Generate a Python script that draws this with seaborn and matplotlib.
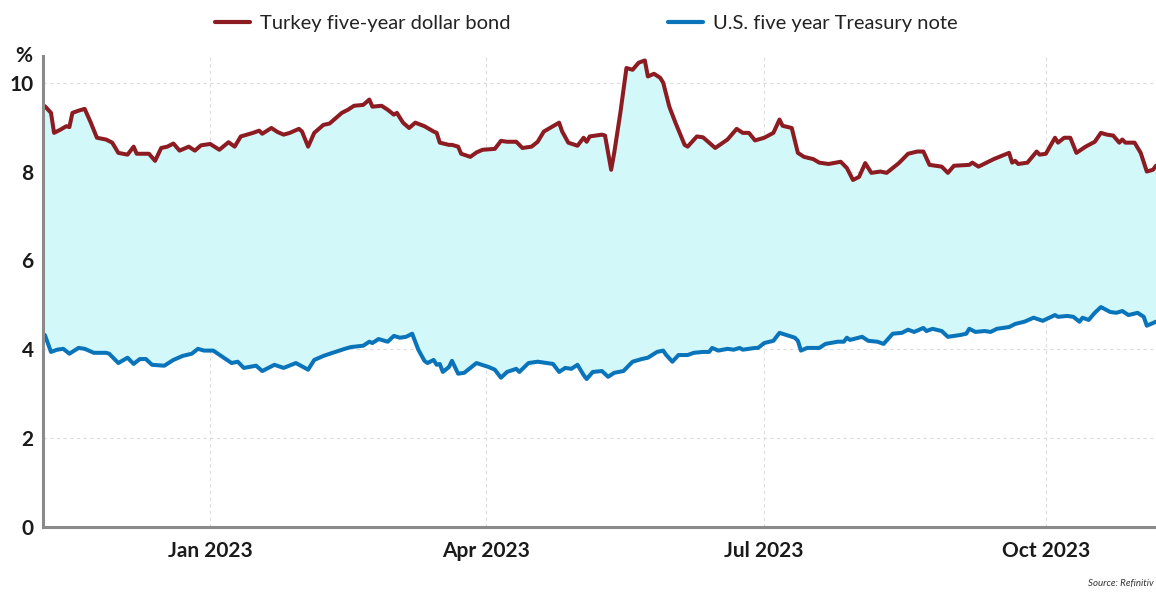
import numpy as np
import pandas as pd
import matplotlib
matplotlib.use("Agg")
import matplotlib.pyplot as plt
import matplotlib.dates as mdates
import seaborn as sns

# ---------------- data ----------------
turkey_dates = [
    "2022-11-08", "2022-11-10", "2022-11-11", "2022-11-13", "2022-11-15", "2022-11-16",
    "2022-11-17", "2022-11-19", "2022-11-21", "2022-11-23", "2022-11-25", "2022-11-28",
    "2022-11-30", "2022-12-02", "2022-12-05", "2022-12-07", "2022-12-08", "2022-12-12",
    "2022-12-14", "2022-12-16", "2022-12-18", "2022-12-20", "2022-12-22", "2022-12-25",
    "2022-12-27", "2022-12-29", "2023-01-01", "2023-01-04", "2023-01-07", "2023-01-09",
    "2023-01-11", "2023-01-15", "2023-01-17", "2023-01-18", "2023-01-21", "2023-01-23",
    "2023-01-25", "2023-01-27", "2023-01-30", "2023-01-31", "2023-02-02", "2023-02-04",
    "2023-02-07", "2023-02-09", "2023-02-13", "2023-02-15", "2023-02-17", "2023-02-20",
    "2023-02-22", "2023-02-23", "2023-02-26", "2023-02-28", "2023-03-02", "2023-03-03",
    "2023-03-05", "2023-03-07", "2023-03-09", "2023-03-12", "2023-03-15", "2023-03-16",
    "2023-03-17", "2023-03-20", "2023-03-21", "2023-03-23", "2023-03-24", "2023-03-27",
    "2023-03-29", "2023-03-31", "2023-04-04", "2023-04-06", "2023-04-08", "2023-04-11",
    "2023-04-13", "2023-04-16", "2023-04-18", "2023-04-20", "2023-04-22", "2023-04-25",
    "2023-04-26", "2023-04-28", "2023-05-01", "2023-05-03", "2023-05-04", "2023-05-05",
    "2023-05-09", "2023-05-10", "2023-05-12", "2023-05-13", "2023-05-15", "2023-05-17",
    "2023-05-19", "2023-05-21", "2023-05-23", "2023-05-24", "2023-05-26", "2023-05-28",
    "2023-05-29", "2023-05-31", "2023-06-02", "2023-06-05", "2023-06-06", "2023-06-09",
    "2023-06-11", "2023-06-15", "2023-06-19", "2023-06-22", "2023-06-24", "2023-06-26",
    "2023-06-28", "2023-07-01", "2023-07-04", "2023-07-06", "2023-07-07", "2023-07-10",
    "2023-07-12", "2023-07-14", "2023-07-17", "2023-07-19", "2023-07-22", "2023-07-26",
    "2023-07-28", "2023-07-30", "2023-08-01", "2023-08-03", "2023-08-05", "2023-08-08",
    "2023-08-10", "2023-08-14", "2023-08-17", "2023-08-20", "2023-08-22", "2023-08-24",
    "2023-08-28", "2023-08-30", "2023-09-01", "2023-09-06", "2023-09-07", "2023-09-09",
    "2023-09-14", "2023-09-19", "2023-09-20", "2023-09-21", "2023-09-22", "2023-09-25",
    "2023-09-28", "2023-09-29", "2023-10-01", "2023-10-04", "2023-10-05", "2023-10-07",
    "2023-10-09", "2023-10-11", "2023-10-14", "2023-10-17", "2023-10-19", "2023-10-21",
    "2023-10-23", "2023-10-25", "2023-10-26", "2023-10-27", "2023-10-30", "2023-11-01",
    "2023-11-03", "2023-11-05", "2023-11-06",
]
turkey_yield = [
    9.47, 9.32, 8.87, 8.94, 9.02, 9.00,
    9.32, 9.37, 9.41, 9.10, 8.76, 8.72,
    8.65, 8.42, 8.38, 8.56, 8.40, 8.40,
    8.24, 8.53, 8.56, 8.63, 8.47, 8.56,
    8.47, 8.59, 8.62, 8.49, 8.66, 8.56,
    8.79, 8.87, 8.92, 8.85, 8.98, 8.89,
    8.83, 8.87, 8.96, 8.90, 8.56, 8.87,
    9.05, 9.08, 9.32, 9.39, 9.48, 9.50,
    9.62, 9.46, 9.48, 9.39, 9.28, 9.32,
    9.10, 8.98, 9.10, 9.02, 8.90, 8.87,
    8.65, 8.60, 8.60, 8.56, 8.40, 8.33,
    8.43, 8.49, 8.51, 8.69, 8.67, 8.67,
    8.53, 8.56, 8.67, 8.90, 8.98, 9.10,
    8.90, 8.65, 8.58, 8.76, 8.67, 8.79,
    8.83, 8.81, 8.04, 8.42, 9.32, 10.33,
    10.29, 10.45, 10.50, 10.14, 10.20, 10.11,
    10.00, 9.46, 9.10, 8.60, 8.56, 8.79,
    8.77, 8.53, 8.72, 8.96, 8.87, 8.87,
    8.70, 8.76, 8.87, 9.17, 9.03, 8.98,
    8.42, 8.33, 8.28, 8.20, 8.17, 8.22,
    8.08, 7.81, 7.88, 8.19, 7.97, 8.00,
    7.97, 8.19, 8.40, 8.45, 8.45, 8.15,
    8.11, 7.97, 8.13, 8.15, 8.20, 8.11,
    8.28, 8.42, 8.20, 8.24, 8.17, 8.20,
    8.45, 8.38, 8.40, 8.76, 8.65, 8.76,
    8.76, 8.42, 8.56, 8.67, 8.87, 8.83,
    8.81, 8.65, 8.72, 8.65, 8.65, 8.42,
    8.00, 8.04, 8.13,
]

us_dates = [
    "2022-11-08", "2022-11-10", "2022-11-12", "2022-11-14", "2022-11-16", "2022-11-19",
    "2022-11-21", "2022-11-24", "2022-11-28", "2022-11-29", "2022-12-02", "2022-12-05",
    "2022-12-07", "2022-12-09", "2022-12-11", "2022-12-13", "2022-12-17", "2022-12-20",
    "2022-12-23", "2022-12-26", "2022-12-28", "2022-12-30", "2023-01-02", "2023-01-05",
    "2023-01-08", "2023-01-10", "2023-01-12", "2023-01-16", "2023-01-18", "2023-01-22",
    "2023-01-25", "2023-01-29", "2023-02-02", "2023-02-04", "2023-02-07", "2023-02-10",
    "2023-02-14", "2023-02-16", "2023-02-20", "2023-02-22", "2023-02-23", "2023-02-25",
    "2023-02-28", "2023-03-02", "2023-03-04", "2023-03-06", "2023-03-08", "2023-03-10",
    "2023-03-12", "2023-03-13", "2023-03-15", "2023-03-16", "2023-03-17", "2023-03-18",
    "2023-03-20", "2023-03-21", "2023-03-23", "2023-03-25", "2023-03-29", "2023-04-02",
    "2023-04-04", "2023-04-06", "2023-04-08", "2023-04-11", "2023-04-12", "2023-04-15",
    "2023-04-18", "2023-04-21", "2023-04-23", "2023-04-25", "2023-04-27", "2023-04-29",
    "2023-05-01", "2023-05-03", "2023-05-04", "2023-05-06", "2023-05-09", "2023-05-11",
    "2023-05-13", "2023-05-16", "2023-05-19", "2023-05-22", "2023-05-24", "2023-05-27",
    "2023-05-29", "2023-05-30", "2023-06-01", "2023-06-03", "2023-06-06", "2023-06-08",
    "2023-06-11", "2023-06-13", "2023-06-14", "2023-06-16", "2023-06-19", "2023-06-21",
    "2023-06-23", "2023-06-24", "2023-06-28", "2023-06-29", "2023-07-01", "2023-07-04",
    "2023-07-06", "2023-07-11", "2023-07-12", "2023-07-13", "2023-07-15", "2023-07-19",
    "2023-07-21", "2023-07-25", "2023-07-27", "2023-07-28", "2023-07-29", "2023-08-02",
    "2023-08-04", "2023-08-07", "2023-08-09", "2023-08-12", "2023-08-15", "2023-08-17",
    "2023-08-19", "2023-08-22", "2023-08-23", "2023-08-25", "2023-08-28", "2023-08-30",
    "2023-09-03", "2023-09-05", "2023-09-06", "2023-09-08", "2023-09-11", "2023-09-13",
    "2023-09-15", "2023-09-19", "2023-09-21", "2023-09-24", "2023-09-27", "2023-09-30",
    "2023-10-04", "2023-10-05", "2023-10-08", "2023-10-10", "2023-10-12", "2023-10-13",
    "2023-10-15", "2023-10-17", "2023-10-19", "2023-10-22", "2023-10-24", "2023-10-26",
    "2023-10-28", "2023-10-31", "2023-11-02", "2023-11-03", "2023-11-05", "2023-11-06",
]
us_yield = [
    4.32, 3.94, 3.99, 4.01, 3.90, 4.03,
    4.01, 3.92, 3.92, 3.90, 3.69, 3.81,
    3.67, 3.78, 3.78, 3.65, 3.63, 3.76,
    3.85, 3.90, 4.01, 3.97, 3.97, 3.83,
    3.69, 3.72, 3.58, 3.63, 3.51, 3.65,
    3.58, 3.69, 3.54, 3.76, 3.85, 3.92,
    4.01, 4.05, 4.08, 4.17, 4.14, 4.23,
    4.17, 4.30, 4.26, 4.28, 4.35, 3.99,
    3.74, 3.69, 3.76, 3.65, 3.67, 3.49,
    3.60, 3.74, 3.45, 3.47, 3.69, 3.60,
    3.54, 3.36, 3.49, 3.56, 3.49, 3.69,
    3.72, 3.69, 3.67, 3.49, 3.58, 3.56,
    3.65, 3.42, 3.33, 3.49, 3.51, 3.38,
    3.47, 3.51, 3.72, 3.78, 3.81, 3.94,
    3.97, 3.87, 3.72, 3.87, 3.87, 3.92,
    3.94, 3.94, 4.03, 3.97, 4.01, 3.99,
    4.03, 3.99, 4.03, 4.03, 4.14, 4.19,
    4.37, 4.26, 4.19, 3.97, 4.03, 4.03,
    4.12, 4.17, 4.17, 4.26, 4.21, 4.28,
    4.19, 4.17, 4.12, 4.35, 4.37, 4.44,
    4.39, 4.48, 4.41, 4.46, 4.41, 4.28,
    4.32, 4.35, 4.46, 4.39, 4.41, 4.39,
    4.46, 4.50, 4.57, 4.62, 4.71, 4.64,
    4.77, 4.73, 4.75, 4.73, 4.62, 4.71,
    4.66, 4.82, 4.95, 4.84, 4.82, 4.86,
    4.77, 4.82, 4.73, 4.53, 4.59, 4.62,
]

series_names = ["Turkey five-year dollar bond", "U.S. five year Treasury note"]
series_colors = ["#8c1c22", "#0a74bb"]
y_ticks = [0, 2, 4, 6, 8, 10]
x_range = ["2022-11-07 12:00", "2023-11-06"]
source_text = "Source: Refinitiv"

# ---------------- build frame ----------------
df = pd.concat([
    pd.DataFrame({"date": pd.to_datetime(turkey_dates), "yield": turkey_yield,
                  "series": series_names[0]}),
    pd.DataFrame({"date": pd.to_datetime(us_dates), "yield": us_yield,
                  "series": series_names[1]}),
], ignore_index=True)

# ---------------- style ----------------
sns.set_theme(style="white")
plt.rcParams["font.family"] = ["Lato", "DejaVu Sans"]

fig = plt.figure(figsize=(11.56, 5.92), dpi=100)
ax = fig.add_axes([0.0375, 0.1098, 0.9625, 0.7956])

# shaded spread between the two curves
tx = mdates.date2num(pd.to_datetime(turkey_dates))
ux = mdates.date2num(pd.to_datetime(us_dates))
poly_x = np.concatenate([tx, ux[::-1]])
poly_y = np.concatenate([turkey_yield, us_yield[::-1]])
ax.fill(poly_x, poly_y, color="#d3f8fa", lw=0, zorder=1)

sns.lineplot(data=df, x="date", y="yield", hue="series",
             palette=dict(zip(series_names, series_colors)),
             linewidth=2.9, ax=ax, zorder=3, legend=True)

ax.set_xlim(pd.to_datetime(x_range[0]), pd.to_datetime(x_range[1]))
ax.set_ylim(0, 10.6)
ax.set_yticks(y_ticks)
ax.set_yticklabels([str(t) for t in y_ticks])
ax.xaxis.set_major_locator(mdates.MonthLocator(bymonth=[1, 4, 7, 10]))
ax.xaxis.set_major_formatter(mdates.DateFormatter("%b %Y"))
ax.set_xlabel("")
ax.set_ylabel("")

ax.grid(True, which="major", axis="both", color="#dcdcdc", linestyle=(0, (3, 3)),
        linewidth=0.8, zorder=0)
ax.set_axisbelow(True)

for side in ["top", "right"]:
    ax.spines[side].set_visible(False)
for side in ["left", "bottom"]:
    ax.spines[side].set_color("#8a8a8a")
    ax.spines[side].set_linewidth(2.2)
    ax.spines[side].set_zorder(4)

ax.tick_params(axis="x", length=7, width=2, color="#8a8a8a", pad=3,
               labelsize=15, labelcolor="#1a1a1a")
ax.tick_params(axis="y", length=0, pad=7, labelsize=15, labelcolor="#1a1a1a")
for lab in ax.get_xticklabels() + ax.get_yticklabels():
    lab.set_fontweight("bold")

leg = ax.legend(loc="upper center", bbox_to_anchor=(0.507, 1.006),
                bbox_transform=fig.transFigure, ncol=2, frameon=False,
                fontsize=14.5, handlelength=1.75, handletextpad=0.5,
                columnspacing=7.8)
for line in leg.get_lines():
    line.set_linewidth(3)
for t in leg.get_texts():
    t.set_color("#222222")

fig.text(0.013, 0.895, "%", fontsize=15, fontweight="bold", color="#1a1a1a")
fig.text(0.998, 0.007, source_text, fontsize=7, style="italic", color="#333333",
         ha="right", va="bottom")

fig.savefig("out.png", dpi=100)
